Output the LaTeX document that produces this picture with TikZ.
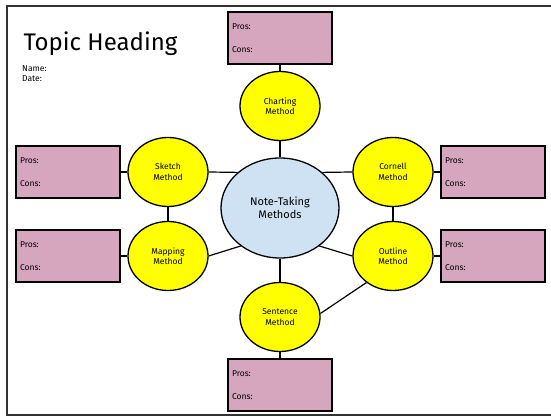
\documentclass[tikz,border=0pt]{standalone}
\usepackage{fontspec}
\setmainfont{Fira Sans}
\usepackage{tikz}
\usetikzlibrary{shapes,arrows,positioning,calc}
\definecolor{boxpink}{RGB}{213,166,189}
\definecolor{notebl}{RGB}{207,226,243}
\definecolor{methyel}{RGB}{255,255,0}
\tikzset{
method/.style = {draw, fill=methyel, ellipse, line width=1.3pt, minimum width=80pt, minimum height=69pt, inner sep=0pt, align=center, font=\fontsize{8.5}{10.5}\selectfont},
hub/.style = {draw, fill=notebl, ellipse, line width=1.3pt, minimum width=118pt, minimum height=100pt, inner sep=0pt, align=center, font=\fontsize{11}{13}\selectfont},
proscons/.style = {draw, fill=boxpink, rectangle, line width=1.3pt, minimum width=104pt, minimum height=52pt, text width=96pt, align=left, font=\fontsize{8.5}{10}\selectfont},
link/.style = {line width=1.2pt}
}

\begin{document}
\begin{tikzpicture}[x=1pt, y=1pt, node distance=100pt]
    \useasboundingbox (0,0) rectangle (551,417);
    % frame
    \draw [line width=1.8pt, black!80] (551,411) -- (7,411) -- (7,2) -- (551,2);

    \node [anchor=base west, font=\fontsize{24}{28}\selectfont] (title) at (20,366) {Topic Heading};
    \node [anchor=north west, align=left, inner sep=0pt, font=\fontsize{8.5}{10}\selectfont] (who) at (22,352) {Name:\\Date:};

    \node [hub] (note) at (280,209) {Note-Taking\\Methods};
    \node [method, above of=note, node distance=102pt] (charting) {Charting\\Method};
    \node [method, below of=note, node distance=109pt] (sentence) {Sentence\\Method};
    \node [method, left of=note, node distance=112pt, yshift=36pt] (sketch) {Sketch\\Method};
    \node [method, left of=note, node distance=112pt, yshift=-48pt] (mapping) {Mapping\\Method};
    \node [method, right of=note, node distance=113pt, yshift=36pt] (cornell) {Cornell\\Method};
    \node [method, right of=note, node distance=113pt, yshift=-48pt] (outline) {Outline\\Method};

    \node [proscons, above of=charting, node distance=68pt] (chartbox) {Pros:\\[13pt]Cons:};
    \node [proscons, below of=sentence, node distance=68pt] (sentbox) {Pros:\\[13pt]Cons:};
    \node [proscons, left of=sketch] (sketchbox) {Pros:\\[13pt]Cons:};
    \node [proscons, left of=mapping] (mapbox) {Pros:\\[13pt]Cons:};
    \node [proscons, right of=cornell] (cornbox) {Pros:\\[13pt]Cons:};
    \node [proscons, right of=outline] (outbox) {Pros:\\[13pt]Cons:};

    \draw [link] (chartbox) -- (charting);
    \draw [link] (charting) -- (note);
    \draw [link] (note) -- (sentence);
    \draw [link] (sentence) -- (sentbox);
    \draw [link] (sketchbox) -- (sketch);
    \draw [link] (mapbox) -- (mapping);
    \draw [link] (cornell) -- (cornbox);
    \draw [link] (outline) -- (outbox);
    \draw [link] (sketch) -- (mapping);
    \draw [link] (cornell) -- (outline);
    \draw [link] (sketch.east) -- (note.140);
    \draw [link] (mapping.east) -- (note.224);
    \draw [link] (cornell.west) -- (note.40);
    \draw [link] (outline.west) -- (note.-44);
    \draw [link] (sentence.5) -- (outline.225);
\end{tikzpicture}
\end{document}
